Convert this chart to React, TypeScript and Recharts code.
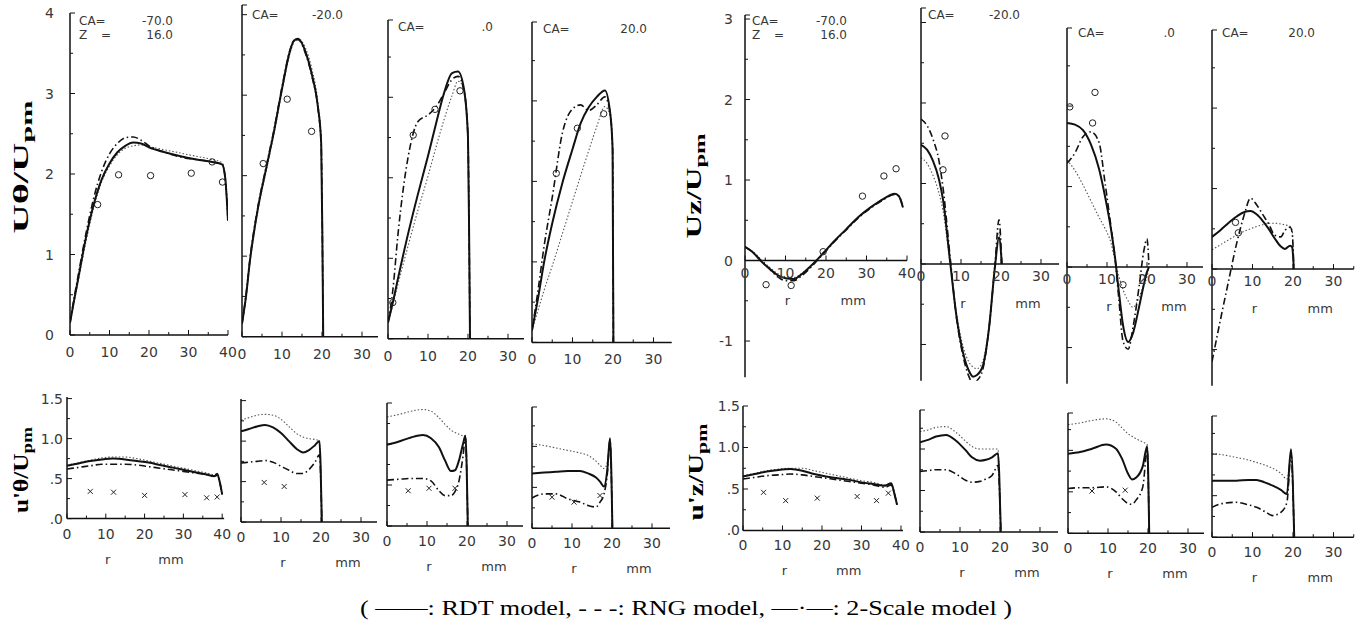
import React from "react";
import { ComposedChart, Line, Scatter, XAxis, YAxis, ReferenceLine } from "recharts";

const INK = "#111";
const TXT = "#383838";
const SANS = "'DejaVu Sans', 'Liberation Sans', sans-serif";
const SERIF = "'Liberation Serif', 'Times New Roman', serif";

// ---- U_theta / U_pm (top left) ----
const tM70R = [0, 1, 2, 4, 6, 8, 10, 12, 14, 16, 18, 20, 24, 28, 32, 36, 38.5, 39.3, 40];
const tM70Rdt = [0.15, 0.42, 0.68, 1.2, 1.62, 1.93, 2.13, 2.27, 2.35, 2.39, 2.38, 2.33, 2.27, 2.22, 2.18, 2.15, 2.12, 1.95, 1.42];
const tM70Rng = [0.15, 0.4, 0.65, 1.15, 1.58, 1.9, 2.1, 2.24, 2.32, 2.35, 2.36, 2.34, 2.3, 2.26, 2.22, 2.18, 2.14, 1.95, 1.42];
const tM70Two = [0.15, 0.45, 0.72, 1.25, 1.7, 2.03, 2.25, 2.38, 2.45, 2.46, 2.42, 2.35, 2.27, 2.21, 2.18, 2.15, 2.12, 1.95, 1.42];
const tM70ExpR = [7, 12.3, 20.4, 30.7, 36, 38.6];
const tM70ExpV = [1.62, 1.99, 1.98, 2.01, 2.15, 1.9];

const tM20R = [0, 1, 2, 4, 6, 8, 10, 12, 13, 14, 16, 17.5, 19, 19.8, 20.1, 20.3];
const tM20Rdt = [0.16, 0.5, 0.95, 1.6, 2.08, 2.55, 3.08, 3.55, 3.68, 3.7, 3.52, 3.25, 2.85, 2.4, 1.2, 0];
const tM20Rng = [0.16, 0.48, 0.92, 1.57, 2.05, 2.52, 3.05, 3.52, 3.66, 3.7, 3.57, 3.32, 2.9, 2.45, 1.2, 0];
const tM20Two = [0.16, 0.52, 0.97, 1.62, 2.1, 2.57, 3.1, 3.56, 3.68, 3.69, 3.5, 3.23, 2.83, 2.38, 1.2, 0];
const tM20ExpR = [5.3, 11.3, 17.4];
const tM20ExpV = [2.15, 2.95, 2.55];

const t0R = [0, 1.2, 2.5, 5, 7.5, 10, 12, 14, 16, 17.5, 19, 20, 20.3, 20.5];
const t0Rdt = [0.2, 0.45, 0.75, 1.3, 1.8, 2.27, 2.67, 3.05, 3.3, 3.32, 3.1, 2.5, 1.2, 0];
const t0Rng = [0.2, 0.42, 0.68, 1.15, 1.6, 2.02, 2.38, 2.72, 3.02, 3.2, 3.1, 2.55, 1.2, 0];
const t0Two = [0.2, 0.6, 1.3, 2.25, 2.7, 2.78, 2.88, 3.05, 3.22, 3.26, 3.08, 2.5, 1.2, 0];
const t0ExpR = [1.2, 6.3, 11.75, 18];
const t0ExpV = [0.45, 2.53, 2.85, 3.08];

const tP20R = [0, 1.5, 3, 5, 7.5, 10, 12, 14, 16, 18, 19.3, 19.9, 20.1];
const tP20Rdt = [0.15, 0.55, 1.0, 1.48, 1.98, 2.4, 2.72, 2.92, 3.05, 3.13, 2.85, 2.4, 0];
const tP20Rng = [0.15, 0.4, 0.65, 0.95, 1.35, 1.75, 2.07, 2.38, 2.68, 2.93, 2.82, 2.4, 0];
const tP20Two = [0.15, 0.65, 1.2, 1.8, 2.6, 2.9, 2.95, 2.88, 2.95, 3.05, 2.85, 2.4, 0];
const tP20ExpR = [6, 11.2, 17.7];
const tP20ExpV = [2.1, 2.66, 2.84];

// ---- U_z / U_pm (top right) ----
const zM70R = [0, 2, 4, 6, 8, 10, 12, 14, 16, 18, 20, 22, 25, 28, 31, 34, 37, 38, 39];
const zM70Rdt = [0.17, 0.1, -0.01, -0.1, -0.18, -0.22, -0.23, -0.17, -0.08, 0.02, 0.13, 0.24, 0.39, 0.54, 0.66, 0.76, 0.83, 0.8, 0.66];
const zM70Rng = [0.17, 0.11, 0.01, -0.08, -0.16, -0.2, -0.21, -0.16, -0.08, 0.02, 0.13, 0.24, 0.39, 0.54, 0.66, 0.76, 0.83, 0.8, 0.66];
const zM70Two = [0.17, 0.1, 0, -0.1, -0.2, -0.25, -0.25, -0.19, -0.1, 0.01, 0.12, 0.23, 0.38, 0.53, 0.65, 0.75, 0.82, 0.8, 0.66];
const zM70ExpR = [5.2, 11.4, 19.3, 29, 34.3, 37.3];
const zM70ExpV = [-0.3, -0.31, 0.11, 0.8, 1.05, 1.14];

const zM20R = [0, 1.5, 3, 4.5, 5.5, 7.25, 8.9, 10.5, 12, 13, 14, 15.5, 17, 18.5, 19.5, 20.2];
const zM20Rdt = [1.48, 1.42, 1.28, 1.05, 0.8, 0.04, -0.66, -1.1, -1.33, -1.4, -1.38, -1.26, -0.8, -0.03, 0.33, 0];
const zM20Rng = [1.32, 1.25, 1.1, 0.88, 0.66, 0.02, -0.62, -1.02, -1.22, -1.28, -1.3, -1.2, -0.78, -0.03, 0.4, 0];
const zM20Two = [1.8, 1.72, 1.55, 1.28, 0.95, 0.1, -0.68, -1.14, -1.4, -1.48, -1.45, -1.3, -0.8, 0, 0.55, 0];
const zM20ExpR = [6, 5.5];
const zM20ExpV = [1.59, 1.17];

const z0R = [0, 2, 4, 6, 8, 9.5, 11, 12, 13, 14, 15.3, 16.5, 18, 19.2, 20, 20.5];
const z0Rdt = [1.79, 1.77, 1.7, 1.52, 1.22, 0.88, 0.47, 0.12, -0.32, -0.72, -0.93, -0.82, -0.5, -0.22, -0.06, 0];
const z0Rng = [1.33, 1.2, 1.02, 0.82, 0.62, 0.48, 0.3, 0.08, -0.12, -0.28, -0.42, -0.5, -0.38, -0.22, -0.12, 0];
const z0Two = [1.29, 1.42, 1.62, 1.68, 1.55, 1.05, 0.5, 0.12, -0.42, -0.92, -1.02, -0.75, -0.25, 0.2, 0.35, 0];
const z0ExpR = [0.7, 7, 6.4, 14];
const z0ExpV = [1.99, 2.17, 1.79, -0.22];

const zP20R = [0, 2, 4, 6, 8, 9.5, 11, 12.5, 14, 15.5, 17, 18, 19.3, 19.8, 20.2];
const zP20Rdt = [0.4, 0.48, 0.57, 0.65, 0.71, 0.72, 0.68, 0.6, 0.5, 0.38, 0.28, 0.25, 0.29, 0.27, 0];
const zP20Rng = [0.24, 0.3, 0.36, 0.42, 0.47, 0.5, 0.53, 0.55, 0.57, 0.57, 0.56, 0.55, 0.53, 0.48, 0];
const zP20Two = [-1.15, -0.65, -0.17, 0.3, 0.68, 0.88, 0.8, 0.68, 0.56, 0.42, 0.4, 0.48, 0.52, 0.45, 0];
const zP20ExpR = [5.8, 6.5];
const zP20ExpV = [0.58, 0.45];

// ---- u'_theta / U_pm (bottom left) ----
const ftM70R = [0, 3, 6, 9, 12, 15, 18, 21, 24, 27, 30, 33, 36, 38, 38.7, 39.4, 40];
const ftM70Rdt = [0.66, 0.69, 0.72, 0.74, 0.75, 0.74, 0.72, 0.7, 0.67, 0.64, 0.61, 0.58, 0.55, 0.53, 0.56, 0.45, 0.3];
const ftM70Rng = [0.67, 0.7, 0.73, 0.76, 0.77, 0.77, 0.75, 0.72, 0.69, 0.66, 0.63, 0.6, 0.57, 0.55, 0.56, 0.45, 0.3];
const ftM70Two = [0.62, 0.64, 0.66, 0.68, 0.68, 0.68, 0.67, 0.65, 0.63, 0.61, 0.59, 0.57, 0.55, 0.53, 0.54, 0.45, 0.3];
const ftM70ExpR = [6, 12, 20, 30.4, 36, 38.7];
const ftM70ExpV = [0.34, 0.33, 0.29, 0.3, 0.26, 0.27];

const ftM20R = [0, 2, 4, 6, 8, 10, 12, 14, 15.5, 17, 18.5, 19.6, 19.9, 20.2];
const ftM20Rdt = [1.12, 1.15, 1.18, 1.2, 1.17, 1.1, 1.0, 0.9, 0.86, 0.89, 0.95, 1.0, 0.7, 0];
const ftM20Rng = [1.26, 1.29, 1.32, 1.33, 1.32, 1.27, 1.18, 1.09, 1.05, 1.03, 1.02, 1.0, 0.7, 0];
const ftM20Two = [0.73, 0.74, 0.75, 0.76, 0.74, 0.69, 0.64, 0.6, 0.6, 0.65, 0.74, 0.83, 0.6, 0];
const ftM20ExpR = [5.8, 10.8];
const ftM20ExpV = [0.49, 0.44];

const ft0R = [0, 3, 6, 9, 11, 13, 14.5, 16, 17, 18, 19, 19.6, 20.2];
const ft0Rdt = [0.99, 1.03, 1.08, 1.11, 1.07, 0.96, 0.8, 0.67, 0.68, 0.8, 1.0, 1.1, 0];
const ft0Rng = [1.33, 1.36, 1.4, 1.42, 1.4, 1.32, 1.24, 1.17, 1.14, 1.12, 1.1, 1.1, 0];
const ft0Two = [0.56, 0.57, 0.58, 0.58, 0.55, 0.43, 0.37, 0.37, 0.42, 0.55, 0.85, 1.08, 0];
const ft0ExpR = [5.3, 10.5, 17];
const ft0ExpV = [0.43, 0.46, 0.46];

const ftP20R = [0, 3, 6, 9, 12, 14, 16, 17, 18, 18.8, 19.5, 20.1];
const ftP20Rdt = [0.67, 0.68, 0.69, 0.7, 0.7, 0.67, 0.62, 0.57, 0.51, 0.7, 1.1, 0];
const ftP20Rng = [1.03, 1.01, 0.98, 0.95, 0.92, 0.89, 0.82, 0.77, 0.73, 0.8, 1.05, 0];
const ftP20Two = [0.37, 0.42, 0.42, 0.36, 0.32, 0.28, 0.26, 0.32, 0.42, 0.65, 1.08, 0];
const ftP20ExpR = [5, 10.5, 17];
const ftP20ExpV = [0.38, 0.32, 0.4];

// ---- u'_z / U_pm (bottom right) ----
const fzM70R = [0, 3, 6, 9, 12, 15, 18, 21, 24, 27, 30, 33, 36, 37.5, 38.3, 39];
const fzM70Rdt = [0.65, 0.68, 0.71, 0.73, 0.74, 0.72, 0.68, 0.65, 0.63, 0.61, 0.58, 0.56, 0.54, 0.57, 0.45, 0.31];
const fzM70Rng = [0.66, 0.69, 0.72, 0.74, 0.75, 0.75, 0.72, 0.69, 0.66, 0.63, 0.6, 0.58, 0.55, 0.57, 0.45, 0.31];
const fzM70Two = [0.62, 0.64, 0.66, 0.67, 0.68, 0.67, 0.65, 0.63, 0.61, 0.59, 0.57, 0.55, 0.52, 0.55, 0.45, 0.31];
const fzM70ExpR = [5.2, 10.8, 18.8, 28.9, 33.8, 36.8];
const fzM70ExpV = [0.46, 0.36, 0.39, 0.41, 0.36, 0.45];

const fzM20R = [0, 2, 4, 6.5, 9, 11.5, 13, 15, 16.5, 18, 19.5, 19.8, 20.2];
const fzM20Rdt = [1.08, 1.11, 1.15, 1.17, 1.1, 0.98, 0.9, 0.86, 0.87, 0.9, 0.95, 0.7, 0];
const fzM20Rng = [1.21, 1.23, 1.26, 1.27, 1.2, 1.09, 1.03, 1.0, 1.0, 1.0, 1.0, 0.7, 0];
const fzM20Two = [0.73, 0.74, 0.75, 0.75, 0.7, 0.62, 0.6, 0.61, 0.64, 0.68, 0.8, 0.6, 0];

const fz0R = [0, 3, 6, 9.5, 12, 13.5, 15, 16, 17, 18.7, 19.8, 20.3];
const fz0Rdt = [0.96, 0.98, 1.02, 1.07, 1.02, 0.9, 0.72, 0.65, 0.67, 0.81, 1.05, 0];
const fz0Rng = [1.31, 1.33, 1.36, 1.38, 1.34, 1.27, 1.2, 1.17, 1.14, 1.1, 1.07, 0];
const fz0Two = [0.54, 0.55, 0.55, 0.56, 0.5, 0.42, 0.36, 0.35, 0.4, 0.56, 1.0, 0];
const fz0ExpR = [6, 14.3];
const fz0ExpV = [0.51, 0.52];

const fzP20R = [0, 3, 6, 9, 11, 13, 15, 17, 18.5, 19.5, 20.3];
const fzP20Rdt = [0.68, 0.68, 0.68, 0.69, 0.69, 0.66, 0.62, 0.57, 0.52, 1.06, 0];
const fzP20Rng = [1.01, 0.99, 0.96, 0.93, 0.9, 0.87, 0.83, 0.77, 0.7, 0.95, 0];
const fzP20Two = [0.36, 0.41, 0.42, 0.39, 0.36, 0.31, 0.26, 0.3, 0.42, 1.0, 0];

const NONE: number[] = [];

type Curves = { r: number[]; rdt: number[]; rng: number[]; two: number[]; expR: number[]; expV: number[] };
type Frame = {
  x0: number; pxMm: number; rMax: number;
  yZero: number; pxUnit: number; yMin: number; yMax: number;
  rms?: boolean; yLabels?: boolean; yGap?: number;
  zeroAxis?: boolean; labelDy: number; rmmDy?: number;
  mark: "o" | "x";
  ca: string; caStart: number; caEnd: number; caBase: number; z?: boolean;
};

const toPts = (r: number[], v: number[]) => r.map((x, i) => ({ r: x, v: v[i] }));

const TOP_L = { pxUnit: 80.5, yMin: 0, labelDy: 22, mark: "o" as const };
const TOP_R = { pxUnit: 80.5, yMin: -1.45, labelDy: 17, rmmDy: 44, zeroAxis: true, mark: "o" as const };
const BOT = { rms: true, yMin: 0, labelDy: 20, rmmDy: 45, mark: "x" as const, ca: "", caStart: 0, caEnd: 0, caBase: 0 };

const panels: { c: Curves; f: Frame }[] = [
  { c: { r: tM70R, rdt: tM70Rdt, rng: tM70Rng, two: tM70Two, expR: tM70ExpR, expV: tM70ExpV },
    f: { ...TOP_L, x0: 70, pxMm: 3.95, rMax: 40, yZero: 335, yMax: 4, yLabels: true, yGap: 16, ca: "-70.0", caStart: 9, caEnd: 103, caBase: 25, z: true } },
  { c: { r: tM20R, rdt: tM20Rdt, rng: tM20Rng, two: tM20Two, expR: tM20ExpR, expV: tM20ExpV },
    f: { ...TOP_L, x0: 242, pxMm: 4, rMax: 34, yZero: 337, yMax: 4.12, ca: "-20.0", caStart: 10, caEnd: 101, caBase: 19 } },
  { c: { r: t0R, rdt: t0Rdt, rng: t0Rng, two: t0Two, expR: t0ExpR, expV: t0ExpV },
    f: { ...TOP_L, x0: 388, pxMm: 4, rMax: 34, yZero: 339, yMax: 3.96, ca: ".0", caStart: 10, caEnd: 105, caBase: 31 } },
  { c: { r: tP20R, rdt: tP20Rdt, rng: tP20Rng, two: tP20Two, expR: tP20ExpR, expV: tP20ExpV },
    f: { ...TOP_L, x0: 532, pxMm: 4.05, rMax: 34.5, yZero: 342, yMax: 3.98, ca: "20.0", caStart: 11, caEnd: 115, caBase: 33 } },

  { c: { r: zM70R, rdt: zM70Rdt, rng: zM70Rng, two: zM70Two, expR: zM70ExpR, expV: zM70ExpV },
    f: { ...TOP_R, x0: 745, pxMm: 4.05, rMax: 40, yZero: 261, yMax: 3.05, yLabels: true, yGap: 12, ca: "-70.0", caStart: 7, caEnd: 102, caBase: 25, z: true } },
  { c: { r: zM20R, rdt: zM20Rdt, rng: zM20Rng, two: zM20Two, expR: zM20ExpR, expV: zM20ExpV },
    f: { ...TOP_R, x0: 921, pxMm: 4, rMax: 34.5, yZero: 264, yMax: 3.18, ca: "-20.0", caStart: 7, caEnd: 99, caBase: 19 } },
  { c: { r: z0R, rdt: z0Rdt, rng: z0Rng, two: z0Two, expR: z0ExpR, expV: z0ExpV },
    f: { ...TOP_R, x0: 1067, pxMm: 4, rMax: 34, yZero: 267, yMax: 2.97, ca: ".0", caStart: 11, caEnd: 108, caBase: 37 } },
  { c: { r: zP20R, rdt: zP20Rdt, rng: zP20Rng, two: zP20Two, expR: zP20ExpR, expV: zP20ExpV },
    f: { ...TOP_R, x0: 1212, pxMm: 4.05, rMax: 35, yZero: 269, yMax: 2.97, ca: "20.0", caStart: 10, caEnd: 103, caBase: 37 } },

  { c: { r: ftM70R, rdt: ftM70Rdt, rng: ftM70Rng, two: ftM70Two, expR: ftM70ExpR, expV: ftM70ExpV },
    f: { ...BOT, x0: 67, pxMm: 3.88, rMax: 40.5, yZero: 519, pxUnit: 80, yMax: 1.52, yLabels: true, yGap: 4 } },
  { c: { r: ftM20R, rdt: ftM20Rdt, rng: ftM20Rng, two: ftM20Two, expR: ftM20ExpR, expV: ftM20ExpV },
    f: { ...BOT, x0: 241, pxMm: 4, rMax: 34, yZero: 522, pxUnit: 81, yMax: 1.52 } },
  { c: { r: ft0R, rdt: ft0Rdt, rng: ft0Rng, two: ft0Two, expR: ft0ExpR, expV: ft0ExpV },
    f: { ...BOT, x0: 387, pxMm: 4, rMax: 34, yZero: 526, pxUnit: 82, yMax: 1.5 } },
  { c: { r: ftP20R, rdt: ftP20Rdt, rng: ftP20Rng, two: ftP20Two, expR: ftP20ExpR, expV: ftP20ExpV },
    f: { ...BOT, x0: 532, pxMm: 4, rMax: 34.5, yZero: 528, pxUnit: 82, yMax: 1.48 } },

  { c: { r: fzM70R, rdt: fzM70Rdt, rng: fzM70Rng, two: fzM70Two, expR: fzM70ExpR, expV: fzM70ExpV },
    f: { ...BOT, x0: 743, pxMm: 3.95, rMax: 40.5, yZero: 530, pxUnit: 83, yMax: 1.5, yLabels: true, yGap: 3 } },
  { c: { r: fzM20R, rdt: fzM20Rdt, rng: fzM20Rng, two: fzM20Two, expR: NONE, expV: NONE },
    f: { ...BOT, x0: 920, pxMm: 4, rMax: 34.5, yZero: 532, pxUnit: 83, yMax: 1.47 } },
  { c: { r: fz0R, rdt: fz0Rdt, rng: fz0Rng, two: fz0Two, expR: fz0ExpR, expV: fz0ExpV },
    f: { ...BOT, x0: 1068, pxMm: 4, rMax: 34, yZero: 533, pxUnit: 83, yMax: 1.45 } },
  { c: { r: fzP20R, rdt: fzP20Rdt, rng: fzP20Rng, two: fzP20Two, expR: NONE, expV: NONE },
    f: { ...BOT, x0: 1212, pxMm: 4.05, rMax: 35, yZero: 537, pxUnit: 83, yMax: 1.46 } },
];

// axes get 1px so that recharts still draws them; margins make up for it
const AX = 1;
const M = { top: 10, right: 10, bottom: 62 - AX, left: 40 - AX };

function fmtY(v: number, rms?: boolean) {
  if (!rms) return String(v);
  if (v === 0) return ".0";
  if (v === 0.5) return ".5";
  return v.toFixed(1);
}

function Panel({ c, f }: { c: Curves; f: Frame }) {
  const plotW = f.rMax * f.pxMm;
  const plotH = (f.yMax - f.yMin) * f.pxUnit;
  const width = 40 + plotW + M.right;
  const height = M.top + plotH + 62;
  const zeroY = M.top + f.yMax * f.pxUnit;

  const xTicks: number[] = [];
  for (let t = 0; t <= f.rMax + 1e-6; t += 5) xTicks.push(t);
  const step = f.rms ? 0.25 : 0.5;
  const yTicks: number[] = [];
  for (let t = Math.ceil(f.yMin / step) * step; t <= f.yMax + 1e-6; t += step) yTicks.push(+t.toFixed(2));
  if (yTicks[yTicks.length - 1] < f.yMax - 0.03) yTicks.push(f.yMax);

  const xTick = (p: any) => {
    const v = Number(p.payload.value);
    const base = f.zeroAxis ? zeroY : p.y;
    const major = Math.abs(v % 10) < 1e-6;
    return (
      <g>
        <line x1={p.x} x2={p.x} y1={base} y2={base - (major ? 5 : 3)} stroke={INK} strokeWidth={1} />
        {major && (
          <text x={p.x} y={base + f.labelDy} textAnchor="middle" fontFamily={SANS} fontSize={14} fill={TXT}>{v}</text>
        )}
        {f.rmmDy && v === 10 && (
          <text x={p.x + 2} y={base + f.rmmDy} textAnchor="middle" fontFamily={SANS} fontSize={13} fill={TXT}>r</text>
        )}
        {f.rmmDy && v === 25 && (
          <text x={p.x + 7} y={base + f.rmmDy} textAnchor="middle" fontFamily={SANS} fontSize={13} fill={TXT}>mm</text>
        )}
      </g>
    );
  };

  const yTick = (p: any) => {
    const v = Number(p.payload.value);
    const unit = f.rms ? 0.5 : 1;
    const onGrid = Math.abs(v / unit - Math.round(v / unit)) < 1e-6;
    const isTop = Math.abs(v - f.yMax) < 1e-6;
    const len = onGrid || isTop ? 5 : 3;
    return (
      <g>
        <line x1={p.x} x2={p.x + len} y1={p.y} y2={p.y} stroke={INK} strokeWidth={1} />
        {f.yLabels && onGrid && (
          <text x={p.x - (f.yGap ?? 6)} y={p.y} dy={5} textAnchor="end" fontFamily={SANS} fontSize={14} fill={TXT}>
            {fmtY(v, f.rms)}
          </text>
        )}
      </g>
    );
  };

  const circle = (p: any) => <circle cx={p.cx} cy={p.cy} r={3.2} fill="none" stroke="#222" strokeWidth={1} />;
  const cross = (p: any) => (
    <path d={`M${p.cx - 2.5},${p.cy - 2.5}L${p.cx + 2.5},${p.cy + 2.5}M${p.cx - 2.5},${p.cy + 2.5}L${p.cx + 2.5},${p.cy - 2.5}`} stroke="#222" strokeWidth={1} />
  );

  return (
    <div style={{ position: "absolute", left: f.x0 - 40, top: f.yZero - f.yMax * f.pxUnit - M.top }}>
      <ComposedChart width={width} height={height} margin={M}>
        <XAxis
          type="number"
          dataKey="r"
          domain={[0, f.rMax]}
          ticks={xTicks}
          interval={0}
          allowDataOverflow
          height={AX}
          tickSize={0}
          tickMargin={0}
          tickLine={false}
          axisLine={f.zeroAxis ? false : { stroke: INK, strokeWidth: 1.5 }}
          tick={xTick}
        />
        <YAxis
          type="number"
          domain={[f.yMin, f.yMax]}
          ticks={yTicks}
          interval={0}
          allowDataOverflow
          width={AX}
          tickSize={0}
          tickMargin={0}
          tickLine={false}
          axisLine={{ stroke: INK, strokeWidth: 1.5 }}
          tick={yTick}
        />
        {f.zeroAxis && <ReferenceLine y={0} stroke={INK} strokeWidth={1.5} />}
        <Line data={toPts(c.r, c.rng)} dataKey="v" type="monotone" stroke="#555" strokeWidth={1.1}
          strokeDasharray="1.5 2" dot={false} activeDot={false} isAnimationActive={false} />
        <Line data={toPts(c.r, c.two)} dataKey="v" type="monotone" stroke={INK} strokeWidth={1.6}
          strokeDasharray="7 3 1.5 3" dot={false} activeDot={false} isAnimationActive={false} />
        <Line data={toPts(c.r, c.rdt)} dataKey="v" type="monotone" stroke={INK} strokeWidth={2}
          dot={false} activeDot={false} isAnimationActive={false} />
        {c.expR.length > 0 && (
          <Scatter data={toPts(c.expR, c.expV)} dataKey="v" shape={f.mark === "o" ? circle : cross} isAnimationActive={false} />
        )}
      </ComposedChart>
    </div>
  );
}

function YTitle({ x, y, main, len }: { x: number; y: number; main: string; len: number }) {
  return (
    <text
      transform={`translate(${x},${y}) rotate(-90)`}
      textAnchor="middle"
      fontFamily={SERIF}
      fontWeight="bold"
      fontSize={20}
      fill="#000"
      textLength={len}
      lengthAdjust="spacingAndGlyphs"
    >
      {main}
      <tspan fontSize={15} dy={4}>pm</tspan>
    </text>
  );
}

export default function App() {
  return (
    <div style={{ position: "absolute", left: 0, top: 0, width: 1360, height: 637, background: "#fff", overflow: "hidden" }}>
      {panels.map((p, i) => (
        <Panel key={i} c={p.c} f={p.f} />
      ))}
      <svg width={1360} height={637} style={{ position: "absolute", left: 0, top: 0, pointerEvents: "none" }}>
        <YTitle x={28} y={167} main="Uθ/U" len={133} />
        <YTitle x={28} y={470} main="u'θ/U" len={86} />
        <YTitle x={701} y={186} main="Uz/U" len={105} />
        <YTitle x={703} y={472} main="u'z/U" len={97} />
        {panels.filter((p) => p.f.ca).map((p, i) => (
          <g key={i} fontFamily={SANS} fontSize={12} fill={TXT}>
            <text x={p.f.x0 + p.f.caStart} y={p.f.caBase}>CA=</text>
            <text x={p.f.x0 + p.f.caEnd} y={p.f.caBase} textAnchor="end">{p.f.ca}</text>
            {p.f.z && <text x={p.f.x0 + p.f.caStart} y={p.f.caBase + 14}>Z</text>}
            {p.f.z && <text x={p.f.x0 + p.f.caStart + 22} y={p.f.caBase + 14}>=</text>}
            {p.f.z && <text x={p.f.x0 + p.f.caEnd} y={p.f.caBase + 14} textAnchor="end">16.0</text>}
          </g>
        ))}
        <text x={686} y={615} textAnchor="middle" fontFamily={SERIF} fontSize={22} fill="#000"
          textLength={652} lengthAdjust="spacingAndGlyphs">
          ( ——: RDT model, - - -: RNG model, —·—: 2-Scale model )
        </text>
      </svg>
    </div>
  );
}
